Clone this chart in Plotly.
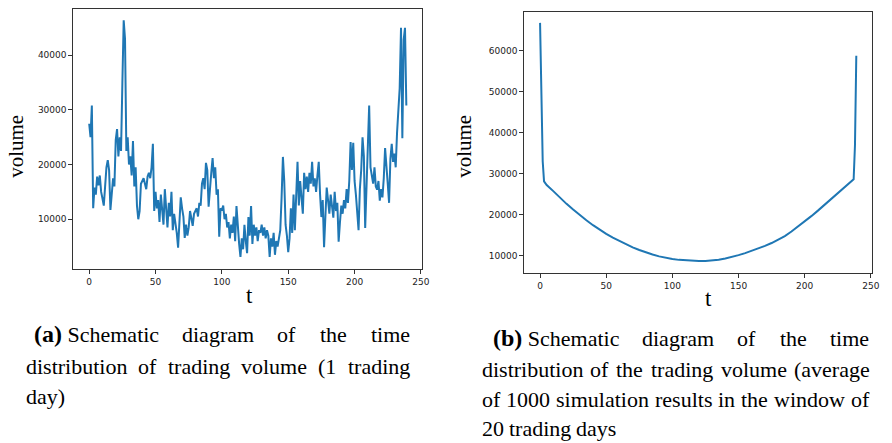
import plotly.graph_objects as go

# ---------------- data ----------------
t_a = list(range(240))
volume_a = [
    27500, 25000, 30800, 12000, 15800, 14500, 17800, 16200, 18000, 15000,
    13800, 12500, 16000, 19500, 20800, 19000, 11700, 15500, 17500, 16000,
    24500, 26500, 21500, 25000, 22500, 34800, 46400, 43000, 22500, 25000,
    20000, 21500, 18000, 24300, 16000, 19500, 12500, 10000, 11500, 16500,
    17000, 17500, 16500, 15500, 17800, 18500, 17500, 19500, 23800, 11500,
    15000, 12000, 13500, 9500, 14500, 11000, 9000, 15500, 12000, 8500,
    13000, 10500, 15000, 8000, 11000, 9500, 7500, 4800, 9800, 14000,
    12000, 10500, 6600, 9000, 7000, 8500, 11500, 10000, 8800, 11000,
    11500, 12000, 10500, 13000, 12500, 16500, 17500, 15500, 20300, 19000,
    12300, 16000, 18500, 21200, 17500, 19500, 14500, 15500, 6800, 12000,
    11600, 12500, 10000, 11000, 8500, 9500, 6500, 9000, 7500, 10500,
    6000, 12400, 8000, 5500, 3100, 6500, 4500, 9000, 6000, 3800,
    10400, 7000, 12400, 5500, 9000, 7000, 8500, 6000, 8000, 7500,
    9000, 7000, 8500, 6500, 8000, 7000, 3100, 6500, 5000, 7500,
    3500, 6000, 5000, 7000, 8000, 14000, 21400, 17000, 9000, 7000,
    4000, 6500, 12000, 7500, 14500, 8000, 16000, 20500, 12500, 17000,
    14000, 11000, 18500, 15500, 17800, 15000, 18500, 16500, 20500, 16000,
    17500, 15000, 18000, 20500, 14500, 10400, 13500, 4900, 10500, 15800,
    13500, 11000, 14500, 12000, 10300, 15000, 11500, 13000, 5900, 9500,
    12500, 11000, 13500, 12000, 15500, 13000, 17000, 24100, 19000, 24000,
    17000, 14500, 11000, 8000, 15500, 19000, 25000, 21500, 8400, 17500,
    22000, 30800, 19500, 18000, 16500, 19500, 16000, 15400, 17000, 13400,
    15500, 14000, 17500, 23000, 18500, 16500, 13000, 21000, 23800, 20500,
    22000, 19500, 25800, 31000, 34000, 45000, 24800, 42800, 45000, 30800,
]

t_b = [0, 1, 2, 3, 4, 5, 10, 15, 20, 25, 30, 35, 40, 45, 50, 55, 60, 65,
       70, 75, 80, 85, 90, 95, 100, 105, 110, 115, 120, 125, 130, 135, 140,
       145, 150, 155, 160, 165, 170, 175, 180, 185, 190, 195, 200, 205, 210,
       215, 220, 225, 230, 235, 237, 238, 239]
volume_b = [66800, 51000, 33000, 28200, 27600, 27300, 25800, 24200, 22700,
            21300, 19950, 18700, 17500, 16400, 15400, 14450, 13600, 12800,
            12100, 11450, 10850, 10350, 9900, 9550, 9250, 9050, 8900, 8800,
            8750, 8800, 8900, 9100, 9400, 9750, 10200, 10700, 11250, 11800,
            12450, 13150, 13950, 14850, 15950, 17150, 18400, 19700, 21050,
            22450, 23900, 25350, 26800, 28150, 28700, 37000, 58800]

x_ticks = [0, 50, 100, 150, 200, 250]
y_ticks_a = [10000, 20000, 30000, 40000]
y_ticks_b = [10000, 20000, 30000, 40000, 50000, 60000]

caption_a = [
    ["(a)", "Schematic", "diagram", "of", "the", "time"],
    ["distribution", "of", "trading", "volume", "(1", "trading"],
    ["day)"],
]
caption_b = [
    ["(b)", "Schematic", "diagram", "of", "the", "time"],
    ["distribution", "of", "the", "trading", "volume", "(average"],
    ["of", "1000", "simulation", "results", "in", "the", "window", "of"],
    ["20", "trading", "days"],
]

# ---------------- figure ----------------
W, H = 892, 443
BLUE = "#1f77b4"
SERIF = "Liberation Serif, Times New Roman, serif"
SANS = "DejaVu Sans, sans-serif"

fig = go.Figure()
fig.add_trace(go.Scatter(x=t_a, y=volume_a, mode="lines",
                         line=dict(color=BLUE, width=2),
                         xaxis="x", yaxis="y", showlegend=False))
fig.add_trace(go.Scatter(x=t_b, y=volume_b, mode="lines",
                         line=dict(color=BLUE, width=2),
                         xaxis="x2", yaxis="y2", showlegend=False))

def px_x(v):
    return v / W

def px_y(v):
    return 1 - v / H

axis_common = dict(showline=True, linecolor="#333", linewidth=1, mirror=True,
                   ticks="outside", ticklen=4, tickcolor="#333", tickwidth=1,
                   showgrid=False, zeroline=False, tickformat="d",
                   tickfont=dict(family=SANS, size=9, color="#222"))

fig.update_layout(
    width=W, height=H, margin=dict(l=0, r=0, t=0, b=0),
    paper_bgcolor="white", plot_bgcolor="white",
    xaxis=dict(domain=[px_x(74), px_x(426)], range=[-11.95, 250.95],
               tickvals=x_ticks, anchor="y", **axis_common),
    yaxis=dict(domain=[px_y(269), px_y(9)], range=[900, 48450],
               tickvals=y_ticks_a, anchor="x", **axis_common),
    xaxis2=dict(domain=[px_x(529), px_x(880)], range=[-11.95, 250.95],
                tickvals=x_ticks, anchor="y2", **axis_common),
    yaxis2=dict(domain=[px_y(273), px_y(12)], range=[5850, 69450],
                tickvals=y_ticks_b, anchor="x2", **axis_common),
)

anns = []
DY = 2  # small correction for annotation box vs glyph centre

# axis titles
for (x, y) in [(16, 146), (468, 146)]:
    anns.append(dict(text="volume", x=px_x(x), y=px_y(y), xref="paper", yref="paper",
                     showarrow=False, textangle=-90, xanchor="center", yanchor="middle",
                     font=dict(family=SERIF, size=21, color="black")))
for (x, y) in [(252, 297), (715, 300)]:
    anns.append(dict(text="t", x=px_x(x), y=px_y(y - DY), xref="paper", yref="paper",
                     showarrow=False, xanchor="center", yanchor="middle",
                     font=dict(family=SERIF, size=23, color="black")))

# Times metrics (per em)
REG = {" ": .25, "(": .333, ")": .333, "a": .444, "b": .5, "c": .444, "d": .5,
       "e": .444, "f": .333, "g": .5, "h": .5, "i": .278, "l": .278, "m": .778,
       "n": .5, "o": .5, "r": .333, "s": .389, "t": .278, "u": .5, "v": .5,
       "w": .722, "y": .5, "S": .556}
BOLD = {"(": .333, ")": .333, "a": .5, "b": .556}
FS = 22
FSB = 24

def word_width(w, bold=False):
    if bold:
        return sum(BOLD.get(c, .55) for c in w) * FSB
    return sum(REG.get(c, .5) for c in w) * FS

def place_line(words, xl, xr, y, justify=True):
    units = []
    if words[0].startswith("(") and len(words[0]) == 3 and words[0][1] in "ab":
        label = words[0]
        txt = "<span style='font-size:%dpx'><b>%s</b></span> %s" % (FSB, label, words[1])
        wid = word_width(label, True) + REG[" "] * FS + word_width(words[1])
        units.append((txt, wid))
        rest = words[2:]
    else:
        rest = words
    for w in rest:
        units.append((w, word_width(w)))
    if justify and len(units) > 1:
        total = sum(u[1] for u in units)
        gap = (xr - xl - total) / (len(units) - 1)
    else:
        gap = REG[" "] * FS
    x = xl
    for txt, wid in units:
        anns.append(dict(text=txt, x=px_x(x), y=px_y(y - DY), xref="paper", yref="paper",
                         showarrow=False, xanchor="left", yanchor="middle", borderpad=0,
                         font=dict(family=SERIF, size=FS, color="black")))
        x += wid + gap

place_line(caption_a[0], 33, 412, 336)
place_line(caption_a[1], 25, 412, 368)
place_line(caption_a[2], 25, 412, 398, justify=False)
place_line(caption_b[0], 496, 876, 340)
place_line(caption_b[1], 485, 876, 371)
place_line(caption_b[2], 485, 876, 401)
place_line(caption_b[3], 485, 876, 430, justify=False)

fig.update_layout(annotations=anns)
fig.write_html("out.html",
               config={"displayModeBar": False},
               post_script="document.body.style.margin='0';document.body.style.overflow='hidden';")
